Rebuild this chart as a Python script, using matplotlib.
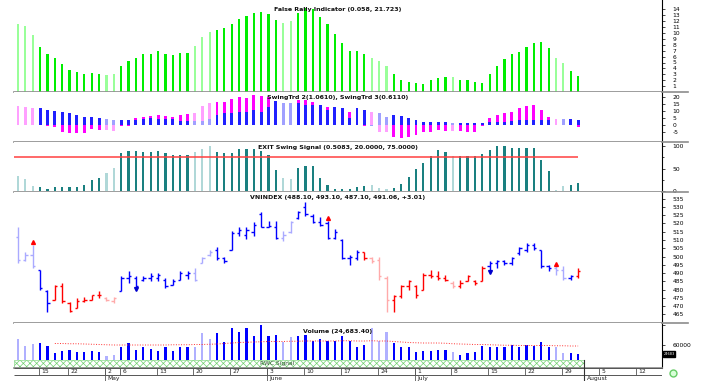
import matplotlib
matplotlib.use("Agg")
import matplotlib.pyplot as plt
from matplotlib.lines import Line2D
from matplotlib.patches import Rectangle
import numpy as np

# daily bars, 10 Apr - 31 Jul 2013
rally = [11.5, 11.2, 9.7, 7.6, 6.4, 5.8, 4.7, 3.7, 3.4, 3.1,
         3.2, 3.1, 2.9, 3.1, 4.4, 5.3, 5.8, 6.4, 6.4, 6.9,
         6.4, 6.3, 6.6, 6.6, 7.8, 9.3, 10.2, 10.5, 10.8, 11.5,
         12.4, 12.9, 13.4, 13.6, 13.2, 12.2, 11.7, 12.0, 13.4, 14.3,
         14.0, 12.7, 11.5, 9.8, 8.3, 6.9, 6.9, 6.4, 5.8, 5.3,
         4.4, 3.1, 2.0, 1.7, 1.5, 1.4, 2.0, 2.4, 2.5, 2.5,
         2.0, 2.0, 1.7, 1.5, 3.1, 4.4, 5.6, 6.4, 6.8, 7.6,
         8.3, 8.5, 7.5, 5.8, 4.9, 3.6, 2.7]

swing_m = [13.6, 12.6, 12.0, 3.0, -1.0, -1.7, -4.8, -5.5, -6.0, -5.5,
           -3.0, -3.6, -3.6, -4.0, -0.5, -0.5, 4.8, 6.0, 6.4, 7.0,
           6.4, 6.0, 7.0, 7.6, 8.8, 13.6, 16.0, 16.4, 16.7, 18.5,
           20.0, 19.5, 21.4, 21.0, 20.0, 17.0, 10.0, 10.0, 18.0, 18.0,
           16.7, 10.0, 13.0, 8.0, 9.0, 9.5, 5.0, -1.0, 9.5, -4.8,
           -4.8, -8.3, -9.5, -8.8, -7.0, -4.8, -4.8, -3.6, -4.0, -4.0,
           -4.0, -4.8, -4.8, -0.5, 4.8, 7.0, 8.8, 9.5, 12.0, 13.6,
           14.3, 10.7, 6.0, 4.0, 0.0, 0.0, -1.7]
swing_b = [0.0, 0.0, 0.0, 12.0, 10.7, 10.0, 9.0, 8.8, 7.1, 6.0,
           6.0, 5.0, 4.0, 3.6, 3.6, 3.6, 3.6, 4.0, 4.8, 4.0,
           4.0, 4.0, 3.0, 3.0, 3.0, 3.0, 4.0, 7.0, 8.3, 8.3,
           9.5, 9.5, 10.7, 9.5, 13.0, 17.0, 16.0, 15.5, 15.5, 14.3,
           14.3, 14.3, 10.7, 13.0, 12.0, 5.0, 12.0, 10.7, -1.0, 8.3,
           6.0, 7.0, 6.4, 4.8, 3.6, 2.4, 2.4, 2.4, 2.4, 1.2,
           1.2, 1.2, 1.2, 1.2, 2.4, 2.4, 2.4, 3.0, 3.6, 3.6,
           3.6, 3.6, 3.6, 0.0, 4.0, 4.0, 3.6]

exit_sig = [33, 27, 11, 10, 5, 9, 9, 9, 10, 13,
            24, 30, 41, 52, 85, 90, 90, 87, 87, 90,
            85, 79, 79, 81, 87, 93, 100, 87, 84, 85,
            94, 94, 94, 90, 81, 47, 28, 27, 52, 56,
            56, 28, 13, 4, 4, 5, 10, 11, 13, 6,
            5, 6, 16, 31, 50, 63, 78, 91, 87, 78,
            78, 78, 78, 83, 91, 100, 100, 96, 96, 96,
            96, 70, 44, 2, 11, 13, 18]
exit_level = 75

opens = [512, 498, 501, 492, 479, 474, 482, 472, 469, 473,
         474, 476.5, 475, 473, 479, 487, 487, 486, 487, 487,
         486, 483, 486, 489, 490, 496, 501, 504, 499, 504,
         514, 513, 515, 526, 518, 518, 511, 515, 523, 530,
         524.5, 521, 520, 511, 510, 499, 499, 503, 499, 498,
         487, 474, 476, 482, 482, 480, 489, 488, 487, 484,
         482, 485, 485, 485, 494, 496, 497, 496, 502, 504,
         507, 504, 494, 493, 492, 487, 488.1]
highs = [517.7, 503, 507, 492, 480, 483, 484, 472.6, 475, 475.6,
         477, 479, 475.8, 475.6, 488, 491, 488.4, 488.4, 490, 490,
         487, 486.6, 491, 491.5, 493, 500, 503.8, 506, 500, 515.4,
         517.7, 517.7, 520.7, 526.8, 521.5, 521.5, 515.4, 521.5, 527.6, 532.7,
         525.6, 523.6, 521.5, 516.5, 510.4, 501.2, 504, 503, 500, 500,
         488, 476.8, 483, 486, 483, 490, 492, 491, 489, 485,
         486, 489, 486, 494, 497, 498, 498, 500, 506, 508,
         508, 504, 495, 494, 494, 489, 493.1]
lows = [496.3, 497, 493, 480, 466.7, 474, 472, 466.5, 469, 472.6,
        474, 475, 472.8, 472, 479, 484, 480, 485, 485, 485,
        481, 483, 485.5, 486.6, 485, 496, 500.6, 497.7, 496.3, 503.8,
        512.4, 510.4, 512.4, 517.7, 517.7, 510.4, 509.3, 514.4, 522.5, 524.6,
        520.5, 518.5, 510.4, 510.4, 498.2, 495, 498, 498, 496, 486,
        466.6, 466.6, 474.8, 480, 474.8, 480, 487, 486, 485, 481,
        481, 485, 483, 485, 490, 493, 495, 495, 501, 503,
        504, 493, 491, 489, 486, 486, 487.1]
closes = [498, 501, 494, 481, 472, 482, 473, 467, 473, 474,
          476.5, 477, 474, 475, 487, 488, 482, 487, 488, 489,
          482, 485, 490, 490, 486, 499, 503, 499, 497, 514,
          516, 516, 519, 518, 518.5, 511, 513, 521, 527, 525.5,
          521, 519, 511, 515, 499, 500, 503, 499, 497, 488,
          474, 476, 482, 485, 477, 489, 488, 487, 486, 482,
          484, 488, 484, 493, 496, 497, 496, 499, 505, 507,
          505, 494, 493, 492, 487, 488, 491.06]
# b = blue bar, r = red bar
price_trend = "b" * 5 + "r" * 9 + "b" * 33 + "r" * 17 + "b" * 12 + "r"
sell_bars = [2, 42, 73]
buy_bars = [16, 64]

volume = [82700, 56000, 64000, 66700, 56000, 26700, 36000, 40000, 30700, 30700,
          36000, 30700, 16000, 20000, 53300, 66700, 40000, 53300, 44000, 36000,
          50700, 36000, 50700, 50700, 53300, 106700, 82700, 106700, 70700, 126700,
          113300, 126700, 97300, 140000, 97300, 100000, 70700, 93300, 97300, 100000,
          77300, 84000, 77300, 77300, 97300, 77300, 53300, 60000, 126700, 77300,
          110700, 66700, 50700, 50700, 30700, 36000, 36000, 40000, 40000, 33300,
          20000, 26700, 30700, 56000, 50700, 50700, 50700, 60000, 50700, 60000,
          56000, 70700, 50700, 50700, 26700, 26700, 24683]
vol_ma = [np.nan, np.nan, np.nan, np.nan, np.nan, 66000, 66000, 65000, 65000, 64000,
          63000, 62000, 61000, 60000, 60000, 60000, 60000, 60000, 60000, 60000,
          60000, 61000, 61000, 61000, 62000, 62000, 63000, 64000, 66000, 68000,
          70000, 71000, 72000, 73000, 74000, 74000, 74000, 75000, 75000, 76000,
          76000, 76000, 76000, 76000, 77000, 77000, 76000, 76000, 77000, 76000,
          76000, 74000, 72000, 70000, 69000, 68000, 68000, 68000, 67000, 65000,
          64000, 63000, 62000, 62000, 61000, 60000, 59000, 59000, 58000, 58000,
          58000, 58000, 58000, 57000, 57000, 56000, 56000]

# bars drawn in the lighter shade
pale_bars = [0, 1, 2, 12, 13, 24, 25, 26, 36, 37, 48, 49, 50, 59, 73, 74]

# date axis: bar index, label
day_ticks = [(3, "15"), (7, "22"), (12, "2"), (14, "6"), (19, "13"), (24, "20"),
             (29, "27"), (34, "3"), (39, "10"), (44, "17"), (49, "24"), (54, "1"),
             (59, "8"), (64, "15"), (69, "22"), (74, "29"), (79, "5"), (84, "12")]
month_ticks = [(12, "May"), (34, "June"), (54, "July"), (77, "August")]

titles = ["False Rally Indicator (0.058, 21.723)",
          "SwingTrd 2(1.0610), SwingTrd 3(0.6110)",
          "EXIT Swing Signal (0.5083, 20.0000, 75.0000)",
          "VNINDEX (488.10, 493.10, 487.10, 491.06, +3.01)",
          "Volume (24,683.40)"]

W, H = 703, 381
L, R = 14, 662
n = len(rally)
x = np.arange(n)
x0 = (L - 18) / 7.37
x1 = (R - 18) / 7.37


def shade(i, strong, light):
    return light if i in pale_bars else strong


plt.rcParams['hatch.linewidth'] = 0.5
plt.rcParams['axes.unicode_minus'] = False
fig = plt.figure(figsize=(W / 100, H / 100), dpi=100)


def add_panel(top, bottom):
    ax = fig.add_axes([L / W, 1 - bottom / H, (R - L) / W, (bottom - top) / H])
    ax.set_xlim(x0, x1)
    ax.set_xticks([])
    ax.yaxis.tick_right()
    ax.spines['left'].set_visible(False)
    ax.spines['top'].set_visible(False)
    ax.spines['bottom'].set_color('#8c8c8c')
    ax.spines['bottom'].set_linewidth(1.2)
    ax.spines['right'].set_linewidth(0.8)
    ax.tick_params(axis='y', direction='out', length=2.5, width=0.5,
                   labelsize=4.3, pad=5)
    return ax


ax1 = add_panel(0, 92)
ax2 = add_panel(92, 142)
ax3 = add_panel(142, 192)
ax4 = add_panel(192, 323)
ax5 = add_panel(323, 368)

# top: rally histogram
ax1.bar(x, rally, width=0.3, color=[shade(i, '#00ee00', '#99ff99') for i in x])
ax1.set_ylim(0, 92 / 5.9)
ax1.set_yticks(range(1, 15))

# swing histograms
ax2.bar(x, swing_m, width=0.4, color=[shade(i, '#ff00ff', '#ffa0ff') for i in x])
ax2.bar(x, swing_b, width=0.4, color=[shade(i, '#2020ff', '#a0a0ff') for i in x])
ax2.set_ylim(-12.1, 23.6)
ax2.set_yticks([-5, 0, 5, 10, 15, 20])

# exit signal
ax3.bar(x, exit_sig, width=0.3, color=[shade(i, '#1a8080', '#b0d8d8') for i in x])
ax3.hlines(exit_level, x0, x[-1], color='#ff4040', lw=1.1)
ax3.set_ylim(-2.2, 108.9)
ax3.set_yticks([0, 50, 100])
ax3.set_yticks([25, 75], minor=True)
ax3.tick_params(axis='y', which='minor', length=1.5, width=0.5)

# price bars
cols = []
for i in x:
    if price_trend[i] == "b":
        cols.append(shade(i, '#0000ff', '#aaaaff'))
    else:
        cols.append(shade(i, '#ff0000', '#ffaaaa'))
ax4.vlines(x, lows, highs, colors=cols, lw=1.0)
ax4.hlines(opens, x - 0.32, x, colors=cols, lw=1.0)
ax4.hlines(closes, x, x + 0.32, colors=cols, lw=1.0)
ax4.plot(x[sell_bars], np.array(highs)[sell_bars] + 1.5, ls='none',
         marker='^', ms=2.8, color='#ff0000')
ax4.plot(x[buy_bars], np.array(lows)[buy_bars] + 0.5, ls='none',
         marker='v', ms=2.8, color='#0000cc')
ax4.set_ylim(459.8, 539.0)
ax4.set_yticks(range(465, 540, 5))

# volume
ax5.bar(x, volume, width=0.3, color=[shade(i, '#0000ff', '#b0b0ff') for i in x])
ax5.plot(x, vol_ma, ls=':', color='#ff3030', lw=0.7)
strip_end = (584 - 18) / 7.37
ax5.add_patch(Rectangle((x0, -28000), strip_end - x0, 28000, facecolor='white',
                        edgecolor='#70d070', hatch='xxxxx', lw=0.4))
ax5.text((x0 + strip_end) / 2 - 3, -14000, "RWC Signal", ha='center', va='center',
         fontsize=4.3, color='#335533')
ax5.set_ylim(-32000, 148000)
ax5.set_yticks([60000])
ax5.set_yticks([140000], minor=True)
ax5.tick_params(axis='y', which='minor', length=2.5, width=0.5)
ax5.annotate("24683", xy=(1.0, volume[-1]), xycoords=('axes fraction', 'data'),
             xytext=(1, 0), textcoords='offset points', fontsize=2.5, color='white',
             va='center', bbox=dict(boxstyle='square,pad=0.2', fc='black', ec='black'))

# panel titles
title_y = [1 - 10 / 92, 1 - 5 / 50, 1 - 6 / 50, 1 - 5 / 131, 1 - 8 / 45]
for ax, t, ty in zip([ax1, ax2, ax3, ax4, ax5], titles, title_y):
    ax.text(0.5, ty, t, transform=ax.transAxes, ha='center', va='center',
            fontsize=4.5, fontweight='bold', color='#111111')

# separators run a bit past the right axis
for yy in [92, 142, 192, 323]:
    fig.add_artist(Line2D([R / W, 688 / W], [1 - yy / H, 1 - yy / H],
                          color='#8c8c8c', lw=1.2, transform=fig.transFigure))

# date axis
axd = fig.add_axes([L / W, 0, (R - L) / W, 13 / H])
axd.set_xlim(x0, x1)
axd.set_ylim(13, 0)
axd.axis('off')
axd.hlines([0.3, 7], x0, x1, color='#555555', lw=0.7)
for pos, lab in day_ticks:
    axd.vlines(pos - 0.2, 0.3, 7, color='#555555', lw=0.6)
    axd.text(pos + 0.15, 3.7, lab, fontsize=4.3, va='center', ha='left', color='#222222')
for pos, lab in month_ticks:
    axd.vlines(pos - 0.2, 0.3, 13, color='#555555', lw=0.6)
    axd.text(pos + 0.15, 10.5, lab, fontsize=4.3, va='center', ha='left', color='#222222')
# current-bar marker line through the signal strip
fig.add_artist(Line2D([584 / W, 584 / W], [1 - 360 / H, 0], color='#333333',
                      lw=0.8, transform=fig.transFigure))
fig.add_artist(Line2D([673 / W], [1 - 373 / H], marker='o', ms=5, mfc='#d8ffd8',
                      mec='#66cc66', transform=fig.transFigure))

fig.savefig("out.png", dpi=100)
